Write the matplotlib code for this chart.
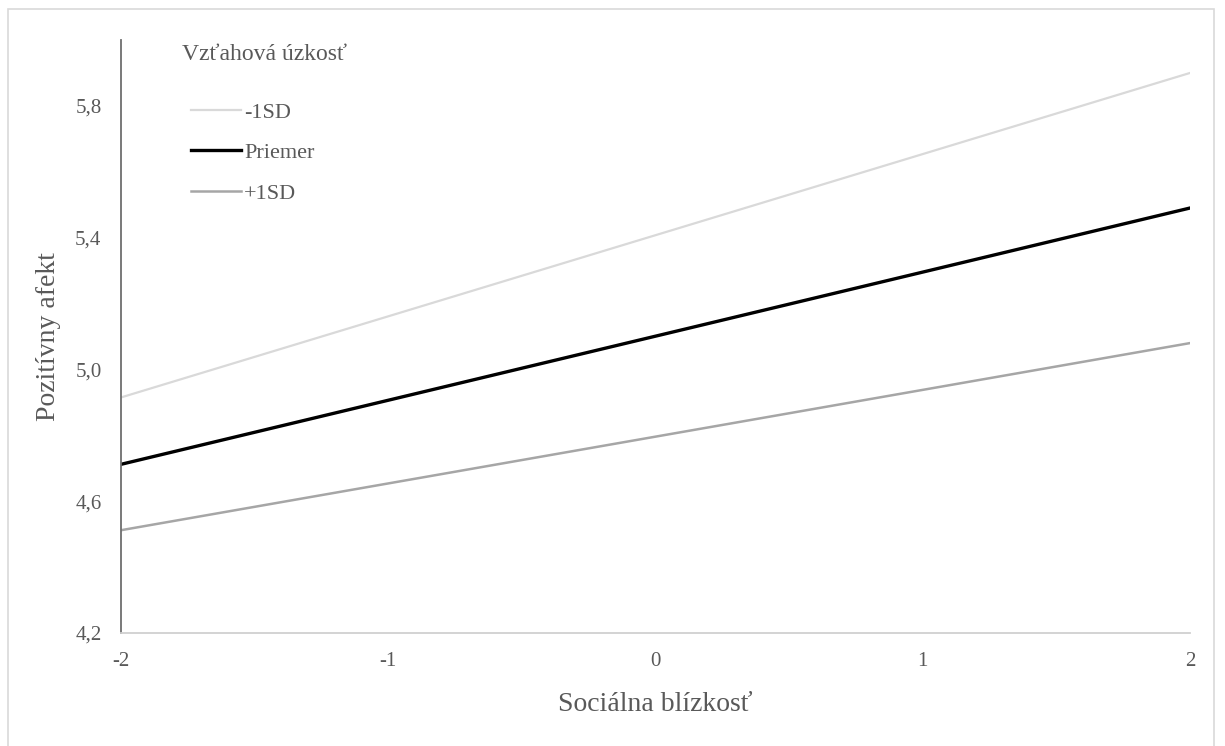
import matplotlib
matplotlib.use("Agg")
import matplotlib.pyplot as plt
from matplotlib.patches import Rectangle

# Data
x_vals = [-2, 2]
series_names = ["-1SD", "Priemer", "+1SD"]
minus_sd = [4.915, 5.90]
mean_vals = [4.712, 5.49]
plus_sd = [4.512, 5.08]
x_ticks = [-2, -1, 0, 1, 2]
y_ticks = [4.2, 4.6, 5.0, 5.4, 5.8]
y_tick_labels = ["4,2", "4,6", "5,0", "5,4", "5,8"]

plt.rcParams['font.family'] = ['Liberation Serif', 'DejaVu Serif']
txt = '#595959'

W, H = 1225, 746
fig = plt.figure(figsize=(W / 100, H / 100), dpi=100)
# outer border
fig.patches.append(Rectangle((8 / W, -0.01), (1214 - 8) / W, 1 - 9 / H + 0.01,
                             transform=fig.transFigure, fill=False,
                             edgecolor='#d9d9d9', linewidth=1.2))

ax = fig.add_axes([121 / W, 1 - 633 / H, (1190 - 121) / W, (633 - 40) / H])

ax.plot(x_vals, minus_sd, color='#d9d9d9', lw=1.6, label=series_names[0])
ax.plot(x_vals, mean_vals, color='#000000', lw=2.4, label=series_names[1])
ax.plot(x_vals, plus_sd, color='#a6a6a6', lw=1.8, label=series_names[2])

ax.set_xlim(-2, 2)
ax.set_ylim(4.2, 6.0)
ax.set_xticks(x_ticks)
ax.set_xticklabels([str(v) for v in x_ticks])
ax.set_yticks(y_ticks)
ax.set_yticklabels(y_tick_labels)
ax.tick_params(axis='both', length=0, labelsize=15, colors=txt)
ax.tick_params(axis='x', pad=14)
ax.tick_params(axis='y', pad=14)

for s in ['top', 'right']:
    ax.spines[s].set_visible(False)
ax.spines['left'].set_color('#6e6e6e')
ax.spines['left'].set_linewidth(1.3)
ax.spines['bottom'].set_color('#d0d0d0')
ax.spines['bottom'].set_linewidth(1.3)

ax.set_xlabel("Sociálna blízkosť", fontsize=20, color=txt, labelpad=15)
ax.set_ylabel("Pozitívny afekt", fontsize=20, color=txt, labelpad=10)

fig.text(182 / W, 1 - 55 / H, "Vzťahová úzkosť", fontsize=17, color=txt,
         ha='left', va='center')

leg = ax.legend(loc='upper left', bbox_to_anchor=(171 / W, 1 - 82 / H),
                bbox_transform=fig.transFigure, frameon=False,
                fontsize=16, handlelength=2.25, handletextpad=0.14,
                labelspacing=0.9, borderpad=0.4)
for t in leg.get_texts():
    t.set_color(txt)

fig.savefig("out.png", dpi=100)
